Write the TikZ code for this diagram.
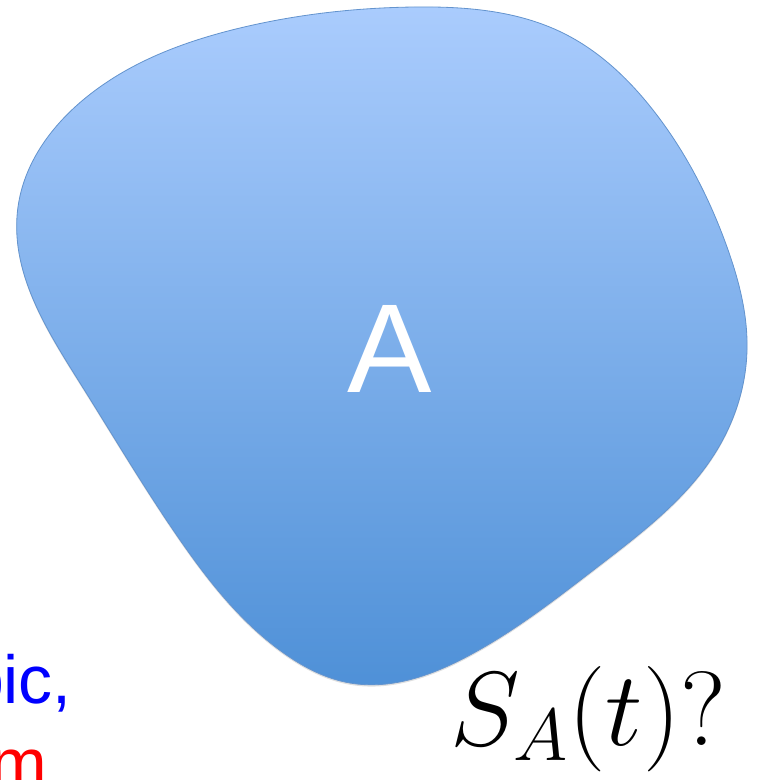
\RequirePackage{fix-cm}
\documentclass[tikz,border=0pt]{standalone}
\usepackage{fontspec}
\setmainfont{Liberation Sans}
\usetikzlibrary{hobby}
\usetikzlibrary{shadows}
\definecolor{blobtop}{RGB}{170,204,253}
\definecolor{blobbottom}{RGB}{78,144,215}
\definecolor{blobedge}{RGB}{100,148,206}
\tikzset{
	blob/.style={draw=blobedge, line width=0.7pt, top color=blobtop, bottom color=blobbottom,
		drop shadow={opacity=0.25, shadow xshift=0pt, shadow yshift=-1.5pt}},
	bigtext/.style={font=\fontsize{#1}{#1}\selectfont, inner sep=0pt}
}

\begin{document}
\begin{tikzpicture}[x=0.03cm, y=-0.03cm]
	\useasboundingbox (0, 0) rectangle (760, 780);
	\clip (0, 0) rectangle (760, 780);
	% the region A
	\draw[blob, use Hobby shortcut, closed=true]
		(18, 207) .. (83, 100) .. (240, 28) .. (414, 7) .. (563, 33) .. (653, 110)
		.. (727, 247) .. (747, 350) .. (717, 450) .. (600, 565) .. (470, 655)
		.. (350, 683) .. (285, 654) .. (180, 540) .. (80, 383);
	\node[bigtext=108, text=white, anchor=base] (labelA) at (390, 392) {A};
	\node[bigtext=90, anchor=base west] (question) at (450, 745) {$S_A(t)?$};
	% cut-off text at the left edge
	\node[bigtext=58, text=blue, anchor=base east] (blueline) at (72, 703) {pic,};
	\node[bigtext=58, text=red, anchor=base east] (redline) at (47, 786) {m};
\end{tikzpicture}
\end{document}
